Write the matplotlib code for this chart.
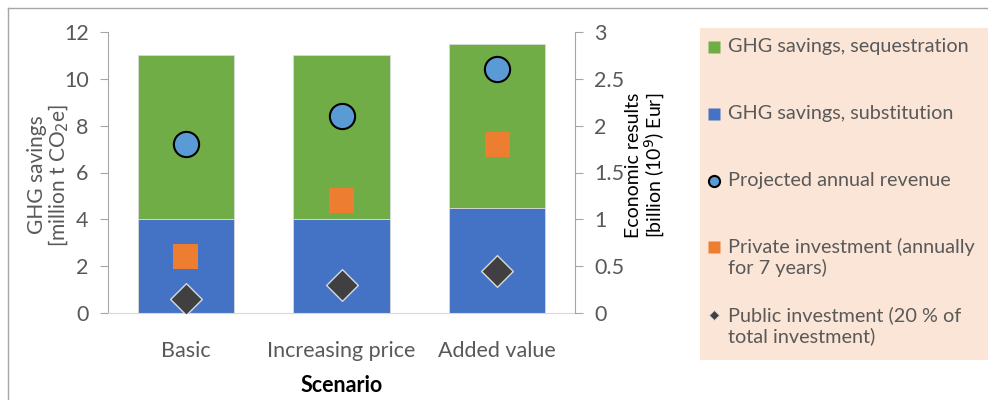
import numpy as np
import matplotlib.pyplot as plt
from matplotlib.lines import Line2D
from matplotlib.patches import Rectangle

plt.rcParams['font.family'] = ['Lato', 'DejaVu Sans']

scenarios = ['Basic', 'Increasing price', 'Added value']
substitution = [4.0, 4.0, 4.5]
sequestration = [7.0, 7.0, 7.0]
revenue = [1.8, 2.1, 2.6]
private_inv = [0.6, 1.2, 1.8]
public_inv = [0.15, 0.3, 0.45]

legend_labels = ['GHG savings, sequestration', 'GHG savings, substitution',
                 'Projected annual revenue', 'Private investment (annually\nfor 7 years)',
                 'Public investment (20 % of\ntotal investment)']

green = '#70AD47'
blue = '#4472C4'
orange = '#ED7D31'
lightblue = '#5B9BD5'
dark = '#404040'
grey_txt = '#595959'

fig = plt.figure(figsize=(9.88, 4.0), dpi=100)
W, H = 988, 400
ax = fig.add_axes([108 / W, 1 - 313 / H, (575 - 108) / W, (313 - 32) / H])
ax2 = ax.twinx()

x = np.arange(len(scenarios))
ax.bar(x, substitution, width=0.62, color=blue, edgecolor='#D9D9D9', linewidth=0.6, zorder=2)
ax.bar(x, sequestration, bottom=substitution, width=0.62, color=green,
       edgecolor='#D9D9D9', linewidth=0.6, zorder=2)

ax2.scatter(x, revenue, s=330, marker='o', color=lightblue, edgecolor='black', linewidth=1.5, zorder=4)
ax2.scatter(x, private_inv, s=330, marker='s', color=orange, edgecolor='none', zorder=4)
ax2.scatter(x, public_inv, s=260, marker='D', color=dark, edgecolor='#D9D9D9', linewidth=1.0, zorder=4)

ax.set_xlim(-0.5, 2.5)
ax.set_ylim(0, 12)
ax.set_yticks(range(0, 13, 2))
ax2.set_ylim(0, 3)
ax2.set_yticks([0, 0.5, 1, 1.5, 2, 2.5, 3])
ax2.set_yticklabels(['0', '0.5', '1', '1.5', '2', '2.5', '3'])
ax.set_xticks(x)
ax.set_xticklabels(scenarios)

for a in (ax, ax2):
    a.spines['top'].set_visible(False)
    a.spines['left'].set_color('#A6A6A6')
    a.spines['right'].set_color('#A6A6A6')
    a.spines['bottom'].set_color('#D9D9D9')
    a.tick_params(axis='y', colors='#A6A6A6', labelcolor=grey_txt, labelsize=15.5, length=6, width=0.8)
ax.tick_params(axis='x', length=0, labelcolor=grey_txt, labelsize=15.5, pad=20)
ax2.spines['bottom'].set_visible(False)
ax.spines['right'].set_visible(False)
ax2.spines['left'].set_visible(False)
ax.tick_params(axis='y', pad=8)
ax2.tick_params(axis='y', pad=8)

ax.set_xlabel('Scenario', fontsize=15.5, fontweight='bold', labelpad=10)
fig.text(49 / W, 1 - 175 / H, 'GHG savings\n[million t CO$_2$e]', rotation=90, ha='center', va='center',
         fontsize=15, color=grey_txt, linespacing=1.0)
fig.text(646 / W, 1 - 165 / H, 'Economic results\n[billion (10$^9$) Eur]', rotation=90, ha='center',
         va='center', fontsize=14, color='black', linespacing=1.0)

# outer border (left and top edges)
fig.add_artist(Line2D([8 / W, 8 / W], [0, 1 - 8 / H], transform=fig.transFigure, color='#A6A6A6', lw=1))
fig.add_artist(Line2D([8 / W, 1], [1 - 8 / H, 1 - 8 / H], transform=fig.transFigure, color='#A6A6A6', lw=1))

# legend panel
fig.add_artist(Rectangle((700 / W, 1 - 360 / H), (988 - 700) / W, (360 - 28) / H,
                         transform=fig.transFigure, facecolor='#FBE5D6', edgecolor='none'))
styles = [dict(marker='s', color=green, mec='none', ms=8),
          dict(marker='s', color=blue, mec='none', ms=8),
          dict(marker='o', color=lightblue, mec='black', mew=1.5, ms=8),
          dict(marker='s', color=orange, mec='none', ms=8),
          dict(marker='D', color=dark, mec='#D9D9D9', mew=0.6, ms=5)]
ys = [47, 114, 181, 247, 315]
for lab, st, yy in zip(legend_labels, styles, ys):
    fig.add_artist(Line2D([714 / W], [1 - yy / H], transform=fig.transFigure, linestyle='none', **st))
    fig.text(728 / W, 1 - (yy - 9) / H, lab, ha='left', va='top', fontsize=14.3, color=grey_txt,
             linespacing=1.2)

fig.savefig('out.png', dpi=100)
